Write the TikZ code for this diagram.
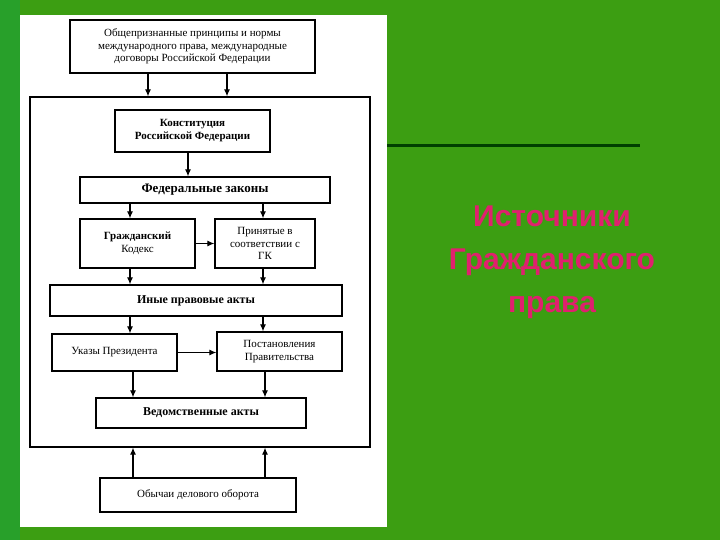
\documentclass[tikz,border=0pt]{standalone}
\usepackage{fontspec}
\setmainfont{Liberation Serif}
\newfontfamily\titlefont{Liberation Sans}
\usetikzlibrary{arrows.meta}
\definecolor{bg}{HTML}{3C9E12}
\definecolor{bgl}{HTML}{28A02A}
\definecolor{tt}{HTML}{E0206E}
\begin{document}
\begin{tikzpicture}[x=1pt,y=-1pt,
 bx/.style={draw=black,line width=1.3pt,fill=white,align=center,font=\fontsize{11}{12.5}\selectfont,inner sep=0pt},
 ar/.style={-{Latex[length=7pt,width=6pt]},line width=1.1pt},
 lbl/.style={font=\titlefont\bfseries\fontsize{30}{43}\selectfont,text=tt}]
\useasboundingbox (0,0) rectangle (720,540);
\fill[bg] (0,0) rectangle (720,540);
\fill[bgl] (0,0) rectangle (20,540);
\draw[green!25!black,line width=3pt] (385,146) -- (640,146);
\fill[white] (20,15) rectangle (387,527);
\node[bx,minimum width=245,minimum height=53] (top) at (192.5,46.5) {Общепризнанные принципы и нормы\\международного права, международные\\договоры Российской Федерации};
\node[draw,line width=1.3pt,minimum width=340,minimum height=350,inner sep=0pt] (outer) at (200,272) {};
\node[bx,minimum width=155,minimum height=42,font=\bfseries\fontsize{11}{13}\selectfont] (con) at (192.5,131) {Конституция\\Российской Федерации};
\node[bx,minimum width=250,minimum height=26,font=\bfseries\fontsize{13}{14}\selectfont] (fed) at (205,190) {Федеральные законы};
\node[bx,minimum width=115,minimum height=49] (gk) at (137.5,243.5) {\textbf{Гражданский}\\Кодекс};
\node[bx,minimum width=100,minimum height=49] (pr) at (265,243.5) {Принятые в\\соответствии с\\ГК};
\node[bx,minimum width=292,minimum height=31,font=\bfseries\fontsize{12}{13}\selectfont] (in) at (196,300.5) {Иные правовые акты};
\node[bx,minimum width=125,minimum height=37] (uk) at (114.5,352.5) {Указы Президента};
\node[bx,minimum width=125,minimum height=39] (po) at (279.5,351.5) {Постановления\\Правительства};
\node[bx,minimum width=210,minimum height=30,font=\bfseries\fontsize{12}{13}\selectfont] (ve) at (201,413) {Ведомственные акты};
\node[bx,minimum width=196,minimum height=34] (ob) at (198,495) {Обычаи делового оборота};
\draw[ar] (top.south -| 148,0) -- (outer.north -| 148,0);
\draw[ar] (top.south -| 227,0) -- (outer.north -| 227,0);
\draw[ar] (con.south -| 188,0) -- (fed.north -| 188,0);
\draw[ar] (fed.south -| 130,0) -- (gk.north -| 130,0);
\draw[ar] (fed.south -| 263,0) -- (pr.north -| 263,0);
\draw[ar] (gk.east) -- (gk.east -| pr.west);
\draw[ar] (gk.south -| 130,0) -- (in.north -| 130,0);
\draw[ar] (pr.south -| 263,0) -- (in.north -| 263,0);
\draw[ar] (in.south -| 130,0) -- (uk.north -| 130,0);
\draw[ar] (in.south -| 263,0) -- (po.north -| 263,0);
\draw[ar] (uk.east) -- (uk.east -| po.west);
\draw[ar] (uk.south -| 133,0) -- (ve.north -| 133,0);
\draw[ar] (po.south -| 265,0) -- (ve.north -| 265,0);
\draw[ar] (ob.north -| 133,0) -- (outer.south -| 133,0);
\draw[ar] (ob.north -| 265,0) -- (outer.south -| 265,0);
\node[lbl,align=center] (title) at (552,262) {Источники\\Гражданского\\права};
\end{tikzpicture}
\end{document}
